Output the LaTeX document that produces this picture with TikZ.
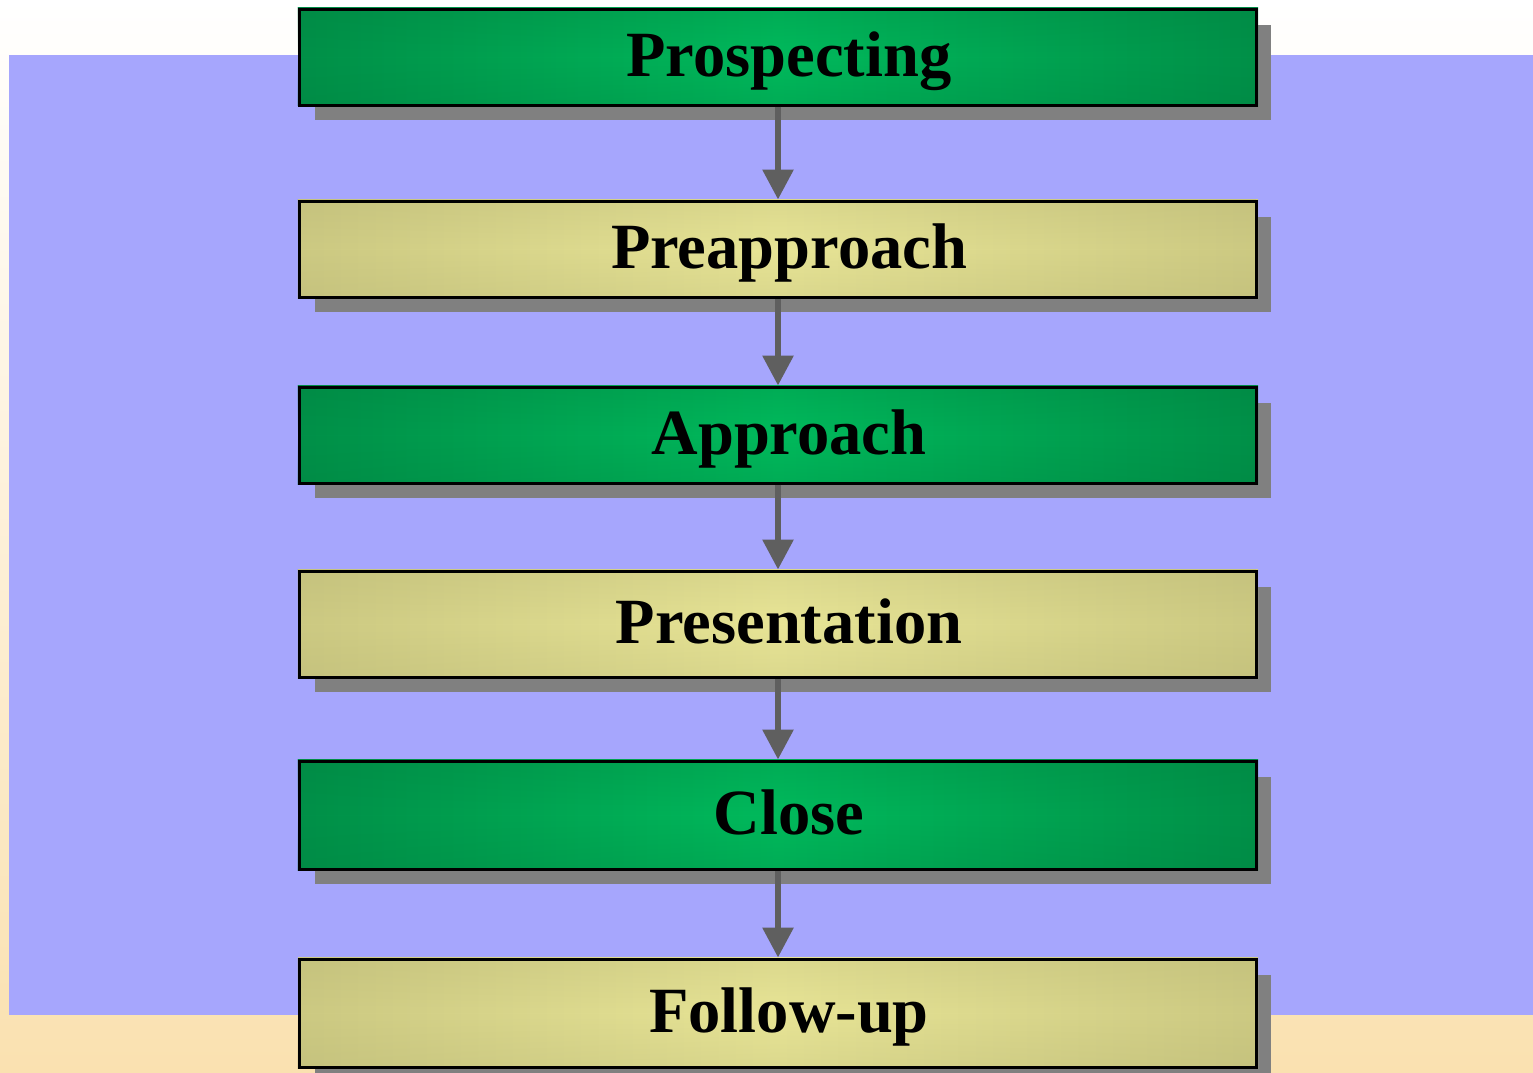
\documentclass[tikz,border=0pt]{standalone}
\usepackage{fontspec}
\setmainfont{Liberation Serif}
\usetikzlibrary{arrows.meta,backgrounds,fadings}
\definecolor{bgTop}{HTML}{FFFFFF}
\definecolor{bgBot}{HTML}{FAE1B0}
\definecolor{panel}{HTML}{A6A6FD}
\definecolor{gEdge}{HTML}{009048}
\definecolor{gMid}{HTML}{00BA5C}
\definecolor{kEdge}{HTML}{CCC982}
\definecolor{kMid}{HTML}{E8E596}
\definecolor{shadowgray}{HTML}{808080}
\definecolor{arrowgray}{HTML}{5F5F5F}
\tikzfading[name=vfade, top color=transparent!78, bottom color=transparent!78, middle color=transparent!100]
\tikzset{
  stagebox/.style={draw=black, line width=3pt, minimum width=957pt, inner sep=0pt,
    text height=44pt, text depth=6pt,
    font=\fontsize{64.5}{70}\selectfont\bfseries},
  flow/.style={draw=arrowgray, line width=6pt, -{Triangle[width=30pt,length=30pt]}},
}
\newcommand{\stagefill}[3]{%
  \shade[left color=#2, right color=#2, middle color=#3] (#1.north west) rectangle (#1.south east);
  \fill[#2!85!black, path fading=vfade] (#1.north west) rectangle (#1.south east);
}
\begin{document}
\begin{tikzpicture}[x=1pt,y=-1pt]
\useasboundingbox (0,0) rectangle (1533,1072);
\node[stagebox, minimum height=96pt]  (b1) at (778,57)   {\hspace*{22pt}Prospecting};
\node[stagebox, minimum height=96pt]  (b2) at (778,249)  {\hspace*{22pt}Preapproach};
\node[stagebox, minimum height=96pt]  (b3) at (778,435)  {\hspace*{22pt}Approach};
\node[stagebox, minimum height=106pt] (b4) at (778,624)  {\hspace*{22pt}Presentation};
\node[stagebox, minimum height=108pt] (b5) at (778,815)  {\hspace*{22pt}Close};
\node[stagebox, minimum height=108pt] (b6) at (778,1013) {\hspace*{22pt}Follow-up};
\begin{scope}[on background layer]
  \shade[top color=bgTop, bottom color=bgBot] (0,0) rectangle (1533,1072);
  \fill[panel] (9,55) rectangle (1533,1015);
  \foreach \b in {b1,b2,b3,b4,b5,b6}{
    \fill[shadowgray] ([shift={(17,17)}]\b.north west) rectangle ([shift={(13,13)}]\b.south east);
  }
  \stagefill{b1}{gEdge}{gMid}
  \stagefill{b2}{kEdge}{kMid}
  \stagefill{b3}{gEdge}{gMid}
  \stagefill{b4}{kEdge}{kMid}
  \stagefill{b5}{gEdge}{gMid}
  \stagefill{b6}{kEdge}{kMid}
\end{scope}
\draw[flow] (b1.south) -- (b2.north);
\draw[flow] (b2.south) -- (b3.north);
\draw[flow] (b3.south) -- (b4.north);
\draw[flow] (b4.south) -- (b5.north);
\draw[flow] (b5.south) -- (b6.north);
\end{tikzpicture}
\end{document}
